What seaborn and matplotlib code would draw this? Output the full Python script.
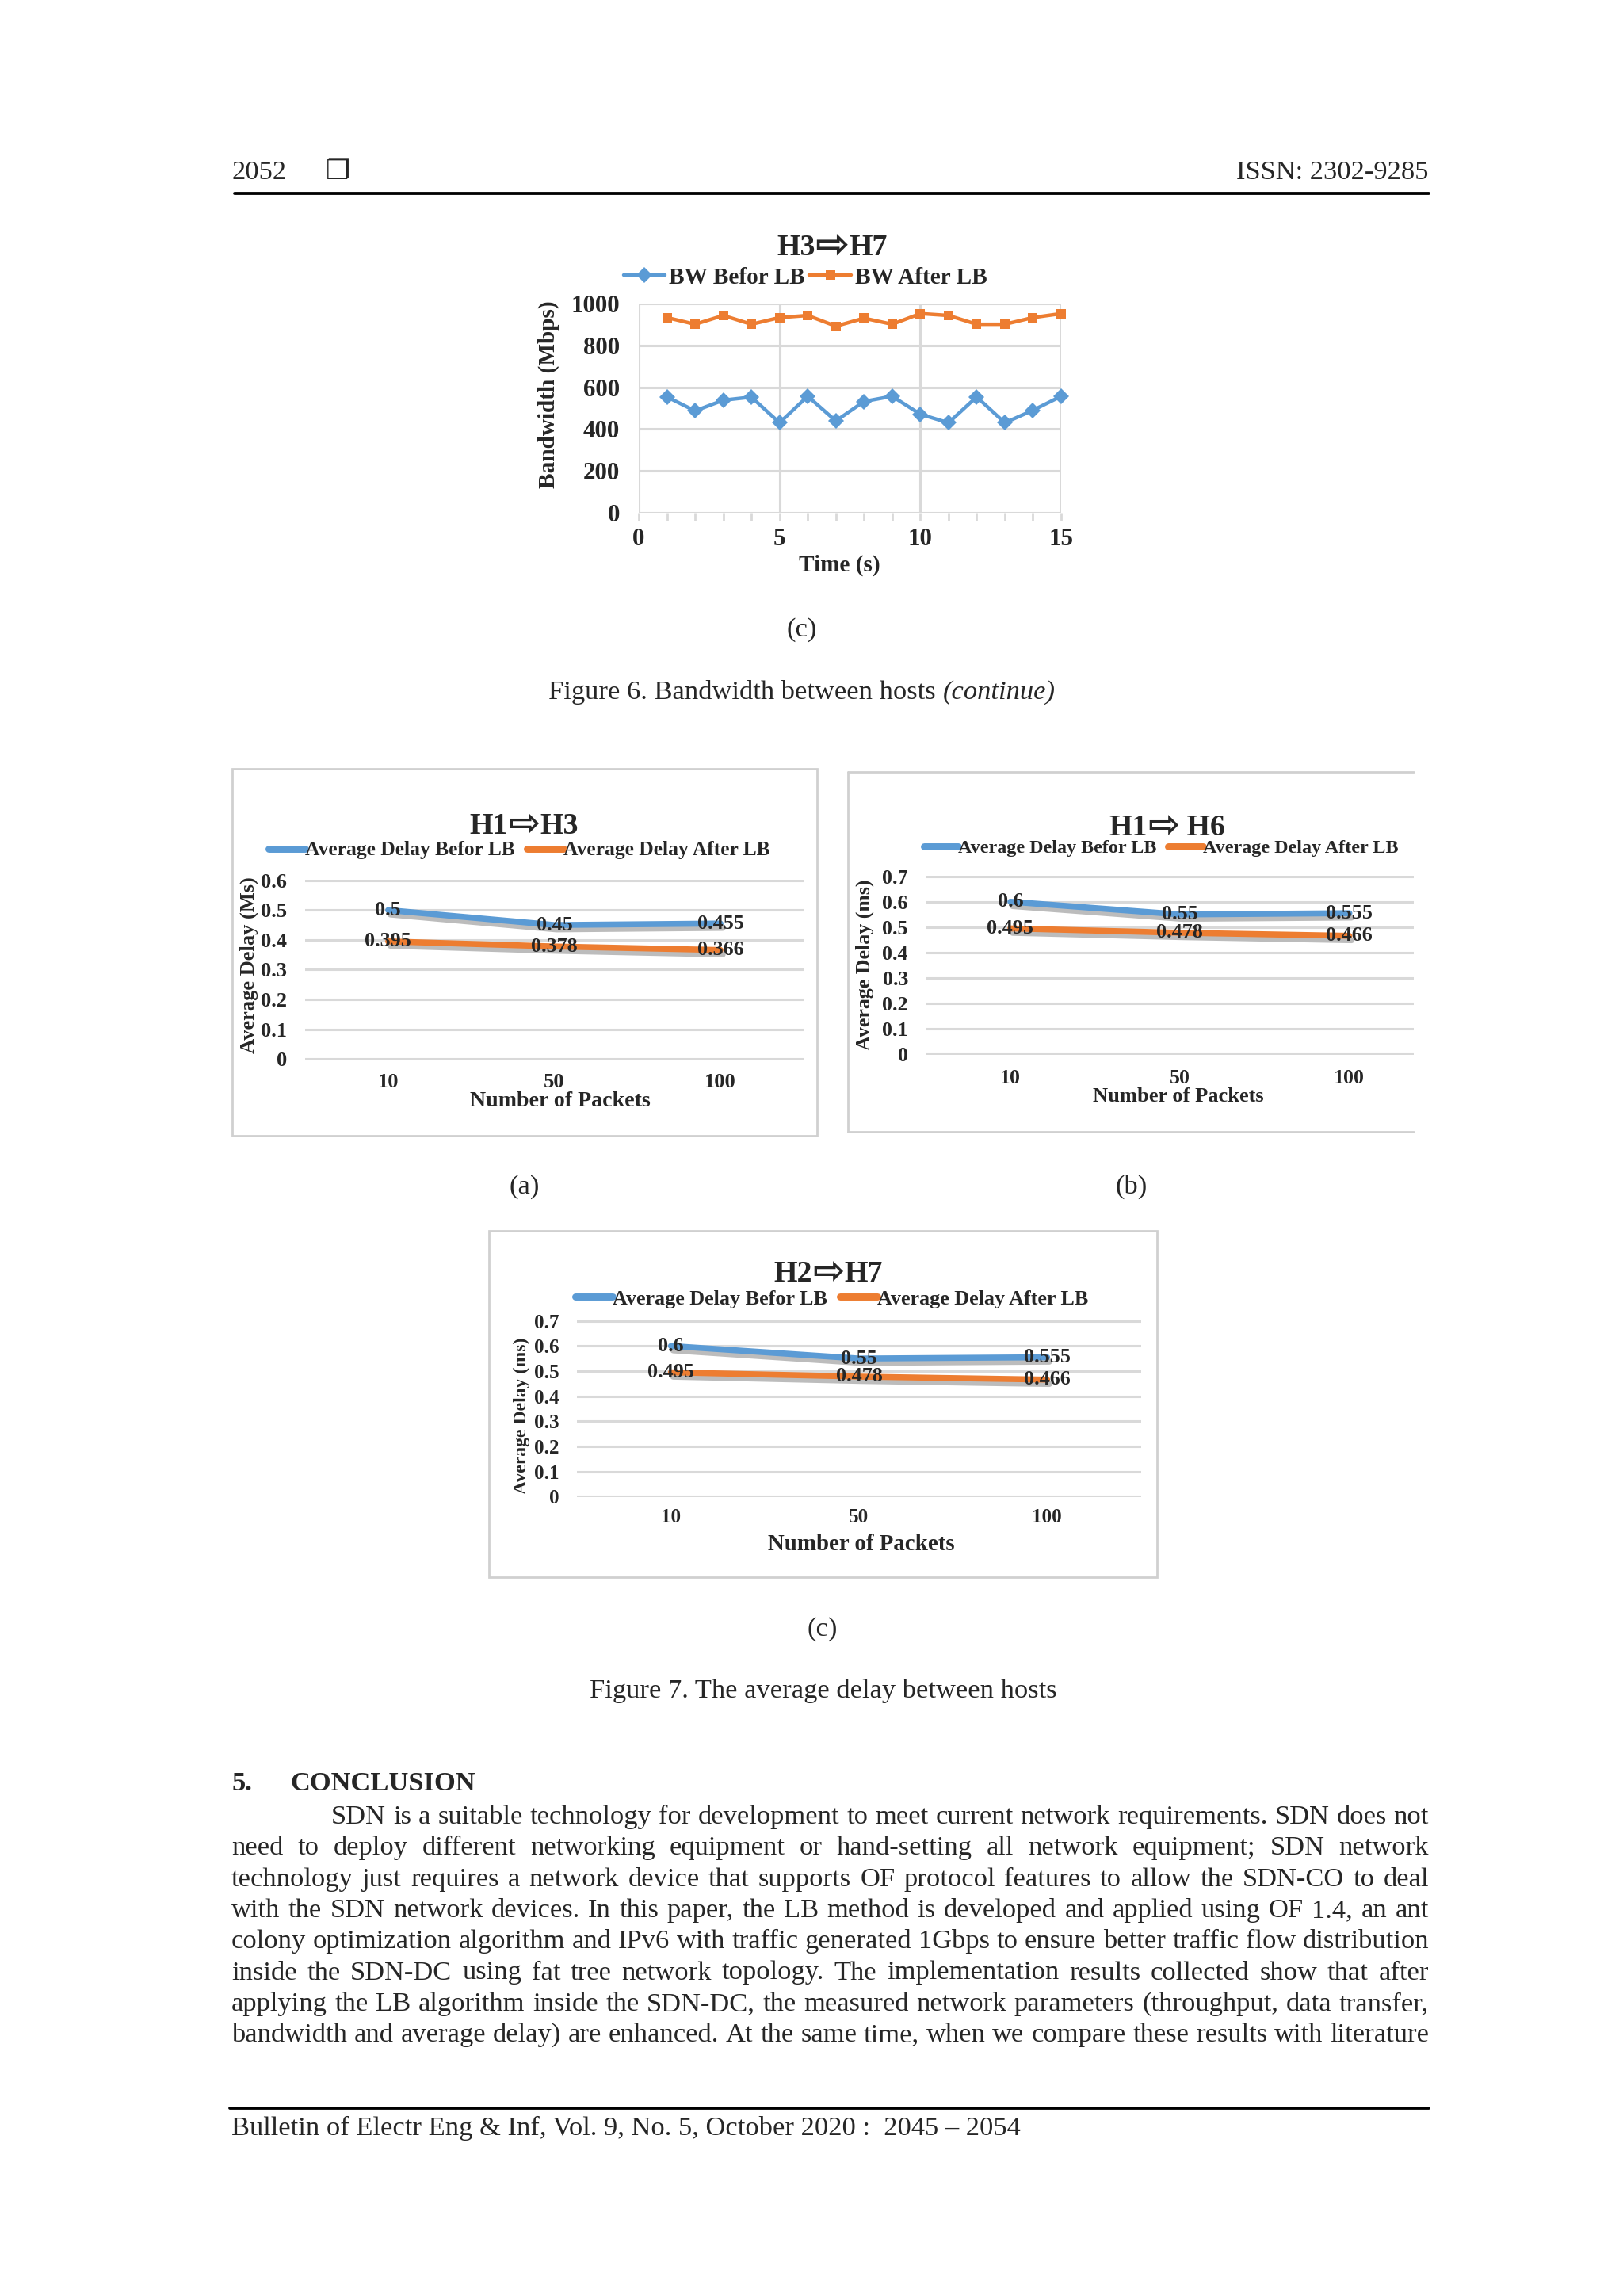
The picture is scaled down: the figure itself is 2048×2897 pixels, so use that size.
import matplotlib
matplotlib.use("Agg")
import matplotlib.pyplot as plt
import matplotlib.patheffects as pe
from matplotlib.lines import Line2D
from matplotlib.patches import Rectangle
from matplotlib.ticker import MultipleLocator, FixedLocator
import seaborn as sns
import pandas as pd

# ---------------- data ----------------
time_s = list(range(1, 16))
bw_before_lb = [554, 487, 538, 553, 430, 557, 439, 532, 557, 471, 430, 554, 430, 490, 557]
bw_after_lb = [933, 901, 943, 901, 933, 943, 892, 930, 901, 952, 943, 901, 901, 933, 952]
bw_yticks = [0, 200, 400, 600, 800, 1000]
bw_xticks = [0, 5, 10, 15]

packets = ["10", "50", "100"]
delay_h1h3_before = [0.5, 0.45, 0.455]
delay_h1h3_after = [0.395, 0.378, 0.366]
delay_h1h6_before = [0.6, 0.55, 0.555]
delay_h1h6_after = [0.495, 0.478, 0.466]
delay_h2h7_before = [0.6, 0.55, 0.555]
delay_h2h7_after = [0.495, 0.478, 0.466]
delay_yticks_a = [0, 0.1, 0.2, 0.3, 0.4, 0.5, 0.6]
delay_yticks_bc = [0, 0.1, 0.2, 0.3, 0.4, 0.5, 0.6, 0.7]

series_before = "Average Delay Befor LB"
series_after = "Average Delay After LB"

body_lines = [
    "SDN is a suitable technology for development to meet current network requirements. SDN does not",
    "need to deploy different networking equipment or hand-setting all network equipment; SDN network",
    "technology just requires a network device that supports OF protocol features to allow the SDN-CO to deal",
    "with the SDN network devices. In this paper, the LB method is developed and applied using OF 1.4, an ant",
    "colony optimization algorithm and IPv6 with traffic generated 1Gbps to ensure better traffic flow distribution",
    "inside the SDN-DC using fat tree network topology. The implementation results collected show that after",
    "applying the LB algorithm inside the SDN-DC, the measured network parameters (throughput, data transfer,",
    "bandwidth and average delay) are enhanced. At the same time, when we compare these results with literature",
]

# ---------------- setup ----------------
sns.set_theme(style="white")
FAM = ["Liberation Serif", "DejaVu Sans"]
plt.rcParams["font.family"] = FAM

BLUE = "#5B9BD5"
ORANGE = "#ED7D31"
GRID = "#D9D9D9"
ARROW = "\u21E8"

W, H = 2048, 2897
DPI = 248
fig = plt.figure(figsize=(W / DPI, H / DPI), dpi=DPI)
fig.patch.set_facecolor("white")
renderer = fig.canvas.get_renderer()


def fx(x):
    return x / W


def fy(y):
    return 1 - y / H


def add_ax(l, t, r, b):
    return fig.add_axes([fx(l), fy(b), (r - l) / W, (b - t) / H])


BASE = 11  # px from visual centre to baseline for 10pt text


def ptext(x, y, s, size=10, ha="left", **kw):
    return fig.text(fx(x), fy(y + BASE * size / 10), s, fontsize=size, ha=ha,
                    va="baseline", family=FAM, **kw)


def measure(s, size=10, **kw):
    t = fig.text(0, 0, s, fontsize=size, family=FAM, **kw)
    w = t.get_window_extent(renderer=renderer).width
    t.remove()
    return w


def hline(x0, x1, y, lw=1.0, color="black"):
    fig.add_artist(Line2D([fx(x0), fx(x1)], [fy(y), fy(y)], lw=lw, color=color,
                          transform=fig.transFigure))


def vline(x, y0, y1, lw=1.0, color="black"):
    fig.add_artist(Line2D([fx(x), fx(x)], [fy(y0), fy(y1)], lw=lw, color=color,
                          transform=fig.transFigure))


def arrow_title(cx, cy, left, right, size=11, asize=15, gap=0):
    wl = measure(left, size, fontweight="bold")
    wa = measure(ARROW, asize, fontweight="bold")
    wr = measure(right, size, fontweight="bold")
    x = cx - (wl + wa + wr + gap) / 2
    ptext(x, cy, left, size=size, fontweight="bold")
    fig.text(fx(x + wl), fy(cy + 1), ARROW, fontsize=asize, ha="left", va="center",
             family=["DejaVu Sans"], fontweight="bold")
    ptext(x + wl + wa + gap, cy, right, size=size, fontweight="bold")


# ---------------- header ----------------
RIGHT = 1803
ptext(292, 215, "2052")
ptext(411, 215, "\u2750", fontweight="bold")
ptext(RIGHT, 215, "ISSN: 2302-9285", ha="right")
hline(296, RIGHT, 244, lw=1.1)

# ---------------- Figure 6 (c) ----------------
ax1 = add_ax(806, 383, 1339, 647)
df_bw = pd.DataFrame({"Time": time_s, "Before": bw_before_lb, "After": bw_after_lb})
sns.lineplot(data=df_bw, x="Time", y="Before", ax=ax1, color=BLUE, lw=1.3,
             marker="D", markersize=4, markeredgecolor=BLUE, markeredgewidth=0,
             errorbar=None, clip_on=False, zorder=4)
sns.lineplot(data=df_bw, x="Time", y="After", ax=ax1, color=ORANGE, lw=1.3,
             marker="s", markersize=3.6, markeredgecolor=ORANGE, markeredgewidth=0,
             errorbar=None, clip_on=False, zorder=4)
ax1.set_xlim(0, 15)
ax1.set_ylim(0, 1000)
ax1.xaxis.set_major_locator(FixedLocator(bw_xticks))
ax1.xaxis.set_minor_locator(MultipleLocator(1))
ax1.yaxis.set_major_locator(FixedLocator(bw_yticks))
ax1.set_xticklabels([str(v) for v in bw_xticks], fontsize=9, fontweight="bold")
ax1.set_yticklabels([str(v) for v in bw_yticks], fontsize=9, fontweight="bold")
ax1.grid(True, which="major", color=GRID, lw=0.9)
for s in ax1.spines.values():
    s.set_visible(False)
ax1.tick_params(axis="x", which="both", bottom=True, length=3, width=0.8, color=GRID,
                direction="out", pad=2.5)
ax1.tick_params(axis="y", left=False, length=0, pad=7)
ax1.set_xlabel("Time (s)", fontsize=8.5, fontweight="bold", va="center", ha="center")
ax1.set_ylabel("Bandwidth (Mbps)", fontsize=8.5, fontweight="bold", va="center", ha="center")
ax1.xaxis.set_label_coords((1059 - 806) / 533, (647 - 713) / 264)
ax1.yaxis.set_label_coords((692 - 806) / 533, (647 - 498) / 264)
arrow_title(1050, 310, "H3", "H7", size=11, asize=15)
bw_handles = [
    Line2D([], [], color=BLUE, lw=1.3, marker="D", markersize=4, markeredgewidth=0),
    Line2D([], [], color=ORANGE, lw=1.3, marker="s", markersize=3.6, markeredgewidth=0),
]
ax1.legend(bw_handles, ["BW Befor LB", "BW After LB"], loc="center",
           bbox_to_anchor=(fx(1016), fy(350)), bbox_transform=fig.transFigure,
           ncol=2, frameon=False, handlelength=1.8, handletextpad=0.15,
           columnspacing=0.2, prop={"family": FAM, "weight": "bold", "size": 8.5})

ptext(1012, 792, "(c)", ha="center")
cap1 = "Figure 6. Bandwidth between hosts "
cap2 = "(continue)"
w1 = measure(cap1)
w2 = measure(cap2, style="italic")
x0 = 1012 - (w1 + w2) / 2
ptext(x0, 871, cap1)
ptext(x0 + w1, 871, cap2, style="italic")


# ---------------- Figure 7 ----------------
def delay_chart(rect, xlim, ytop, yticks, before, after, title_parts, title_xy, leg_xy,
                leg_size, ylab, ylab_size, ylab_xy, xlab_size, xlab_xy, tick_size,
                xpad, ypad):
    l, t, r, b = rect
    ax = add_ax(l, t, r, b)
    df = pd.DataFrame({"Packets": packets, "Before": before, "After": after})
    shadow = [pe.SimpleLineShadow(offset=(0.8, -1.6), shadow_color="0.35", alpha=0.4),
              pe.Normal()]
    sns.lineplot(data=df, x="Packets", y="Before", ax=ax, color=BLUE, lw=2.2,
                 sort=False, errorbar=None, path_effects=shadow)
    sns.lineplot(data=df, x="Packets", y="After", ax=ax, color=ORANGE, lw=2.2,
                 sort=False, errorbar=None, path_effects=shadow)
    for i, v in enumerate(before):
        ax.text(i, v, f"{v:g}", ha="center", va="center", fontsize=7.6,
                fontweight="bold", family=FAM, zorder=6)
    for i, v in enumerate(after):
        ax.text(i, v, f"{v:g}", ha="center", va="center", fontsize=7.6,
                fontweight="bold", family=FAM, zorder=6)
    ax.set_xlim(*xlim)
    ax.set_ylim(-0.002, ytop + 0.002)
    ax.yaxis.set_major_locator(FixedLocator(yticks))
    ax.set_yticklabels([f"{v:g}" for v in yticks], fontsize=tick_size, fontweight="bold")
    for tl in ax.get_xticklabels():
        tl.set_fontsize(tick_size)
        tl.set_fontweight("bold")
    ax.grid(True, axis="y", color=GRID, lw=0.9)
    ax.grid(False, axis="x")
    for s in ax.spines.values():
        s.set_visible(False)
    ax.tick_params(axis="x", bottom=False, length=0, pad=xpad)
    ax.tick_params(axis="y", left=False, length=0, pad=ypad)
    ax.set_xlabel("Number of Packets", fontsize=xlab_size, fontweight="bold",
                  va="center", ha="center")
    ax.set_ylabel(ylab, fontsize=ylab_size, fontweight="bold", va="center", ha="center")
    ax.xaxis.set_label_coords((xlab_xy[0] - l) / (r - l), (b - xlab_xy[1]) / (b - t))
    ax.yaxis.set_label_coords((ylab_xy[0] - l) / (r - l), (b - ylab_xy[1]) / (b - t))
    arrow_title(title_xy[0], title_xy[1], title_parts[0], title_parts[1],
                size=11, asize=14, gap=title_parts[2])
    handles = [Line2D([], [], color=BLUE, lw=2.6), Line2D([], [], color=ORANGE, lw=2.6)]
    ax.legend(handles, [series_before, series_after], loc="center",
              bbox_to_anchor=(fx(leg_xy[0]), fy(leg_xy[1])), bbox_transform=fig.transFigure,
              ncol=2, frameon=False, handlelength=1.8, handletextpad=0.0,
              columnspacing=0.6, prop={"family": FAM, "weight": "bold", "size": leg_size})
    return ax


BOX = "#D0D0D0"
# (a)
fig.add_artist(Rectangle((fx(293), fy(1433)), (1031 - 293) / W, (1433 - 970) / H,
                         transform=fig.transFigure, fill=False, edgecolor=BOX, lw=0.8))
delay_chart((385, 1110, 1014, 1337), (-0.5, 2.5), 0.6, delay_yticks_a,
            delay_h1h3_before, delay_h1h3_after, ("H1", "H3", 0), (661, 1040), (655, 1073),
            7.4, "Average Delay (Ms)", 7.7, (314, 1218), 8.1, (707, 1390), 7.7, 5.0, 6.7)
ptext(662, 1495, "(a)", ha="center")

# (b) -- right side open
hline(1070, 1784, 974, lw=0.8, color=BOX)
hline(1070, 1784, 1428, lw=0.8, color=BOX)
vline(1070, 974, 1428, lw=0.8, color=BOX)
delay_chart((1168, 1105, 1784, 1331), (-0.5, 2.38), 0.7, delay_yticks_bc,
            delay_h1h6_before, delay_h1h6_after, ("H1", " H6", 0), (1473, 1042), (1465, 1070),
            7.0, "Average Delay (ms)", 7.5, (1091, 1217), 7.7, (1487, 1383), 7.5, 5.2, 6.4)
ptext(1428, 1495, "(b)", ha="center")

# (c)
fig.add_artist(Rectangle((fx(617), fy(1990)), (1460 - 617) / W, (1990 - 1553) / H,
                         transform=fig.transFigure, fill=False, edgecolor=BOX, lw=0.8))
delay_chart((728, 1666, 1440, 1889), (-0.5, 2.5), 0.7, delay_yticks_bc,
            delay_h2h7_before, delay_h2h7_after, ("H2", "H7", 0), (1045, 1605), (1050, 1639),
            7.6, "Average Delay (ms)", 6.9, (658, 1786), 8.4, (1087, 1948), 7.3, 4.0, 6.4)
ptext(1038, 2053, "(c)", ha="center")
ptext(1039, 2131, "Figure 7. The average delay between hosts", ha="center")

# ---------------- Conclusion ----------------
ptext(292, 2248, "5.", fontweight="bold")
ptext(366, 2248, "CONCLUSION", fontweight="bold")

LEFT = 292
for i, line in enumerate(body_lines):
    y = 2290 + i * 39.3
    x_start = 418 if i == 0 else LEFT
    words = line.split()
    widths = [measure(w) for w in words]
    gap = (RIGHT - x_start - sum(widths)) / (len(words) - 1)
    x = x_start
    for w, wd in zip(words, widths):
        ptext(x, y, w)
        x += wd + gap

# ---------------- footer ----------------
hline(290, RIGHT, 2660, lw=1.1)
ptext(292, 2683, "Bulletin of Electr Eng & Inf, Vol. 9, No. 5, October 2020 :  2045 \u2013 2054")

fig.savefig("out.png", dpi=DPI, facecolor="white")
